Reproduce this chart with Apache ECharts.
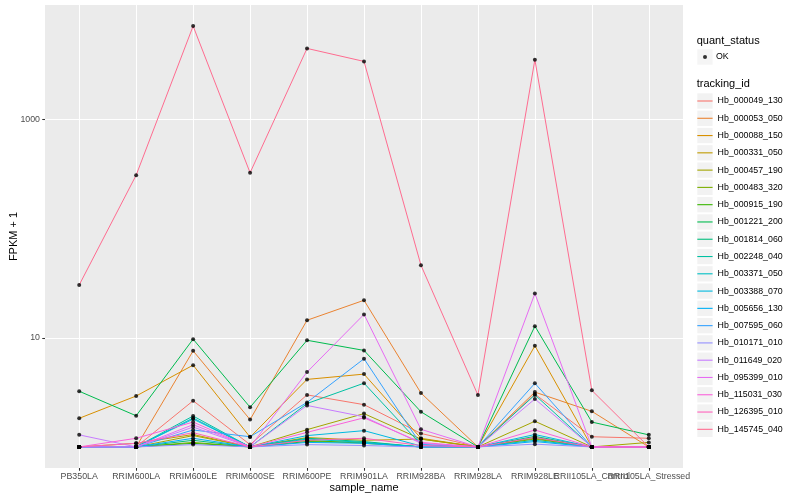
<!DOCTYPE html>
<html><head><meta charset="utf-8">
<script src="https://cdn.jsdelivr.net/npm/echarts@6/dist/echarts.min.js"></script>
<style>html,body{margin:0;padding:0;background:#fff}#c{width:800px;height:500px}</style>
</head><body><div id="c"></div>
<script>
const categories = ['PB350LA','RRIM600LA','RRIM600LE','RRIM600SE','RRIM600PE','RRIM901LA','RRIM928BA','RRIM928LA','RRIM928LE','RRII105LA_Control','RRII105LA_Stressed'];
const trackingIds = ['Hb_000049_130','Hb_000053_050','Hb_000088_150','Hb_000331_050','Hb_000457_190','Hb_000483_320','Hb_000915_190','Hb_001221_200','Hb_001814_060','Hb_002248_040','Hb_003371_050','Hb_003388_070','Hb_005656_130','Hb_007595_060','Hb_010171_010','Hb_011649_020','Hb_095399_010','Hb_115031_030','Hb_126395_010','Hb_145745_040'];
const palette = ['#F8766D','#EA8331','#D89000','#C09B00','#A3A500','#7CAE00','#39B600','#00BB4E','#00BF7D','#00C1A3','#00BFC4','#00BAE0','#00B0F6','#35A2FF','#9590FF','#C77CFF','#E76BF3','#FA62DB','#FF62BC','#FF6C90'];

// FPKM + 1 per sample, in category order
const hb_000049_130 = [1, 1, 2.65, 1.05, 3.0, 2.44, 1.33, 1, 3.05, 1.24, 1.2];
const hb_000053_050 = [1, 1, 7.6, 1.78, 14.5, 22.1, 3.12, 1, 3.18, 2.12, 1];
const hb_000088_150 = [1.83, 2.93, 5.62, 1.23, 4.16, 4.65, 1.2, 1, 8.45, 1, 1];
const hb_000331_050 = [1, 1.08, 1.3, 1, 1.22, 1.15, 1.18, 1, 1.2, 1, 1];
const hb_000457_190 = [1, 1, 1.27, 1, 1.44, 2.02, 1.18, 1, 1.72, 1, 1.1];
const hb_000483_320 = [1, 1, 1.1, 1, 1.15, 1.08, 1, 1, 1.18, 1, 1];
const hb_000915_190 = [1, 1, 1.08, 1, 1.12, 1.1, 1, 1, 1.22, 1, 1];
const hb_001221_200 = [3.24, 1.93, 9.73, 2.31, 9.5, 7.67, 2.1, 1, 12.8, 1.69, 1.29];
const hb_001814_060 = [1, 1, 1.15, 1, 1.2, 1.12, 1, 1, 1.25, 1, 1];
const hb_002248_040 = [1, 1, 1.92, 1, 2.5, 3.84, 1.05, 1, 3.0, 1, 1];
const hb_003371_050 = [1, 1, 1.84, 1, 1.18, 1.1, 1, 1, 1.15, 1, 1];
const hb_003388_070 = [1, 1, 1.8, 1, 1.27, 1.41, 1.02, 1, 1.3, 1, 1];
const hb_005656_130 = [1, 1, 1.2, 1, 1.1, 1.08, 1, 1, 1.12, 1, 1];
const hb_007595_060 = [1, 1, 1.43, 1.24, 2.56, 6.43, 1.05, 1, 3.83, 1, 1];
const hb_010171_010 = [1, 1, 1.05, 1, 1.05, 1.03, 1, 1, 1.06, 1, 1];
const hb_011649_020 = [1.29, 1, 1.52, 1, 2.4, 1.89, 1.08, 1, 2.75, 1, 1];
const hb_095399_010 = [1, 1, 1.6, 1, 4.85, 16.4, 1.45, 1, 25.5, 1, 1];
const hb_115031_030 = [1, 1.2, 1.69, 1, 1.36, 1.85, 1.1, 1, 1.43, 1, 1];
const hb_126395_010 = [1, 1.08, 1.35, 1, 1.15, 1.2, 1.03, 1, 1.22, 1, 1];
const hb_145745_040 = [30.5, 310, 7210, 326, 4500, 3420, 46.3, 2.99, 3550, 3.3, 1];

const seriesValues = [hb_000049_130, hb_000053_050, hb_000088_150, hb_000331_050, hb_000457_190, hb_000483_320, hb_000915_190, hb_001221_200, hb_001814_060, hb_002248_040, hb_003371_050, hb_003388_070, hb_005656_130, hb_007595_060, hb_010171_010, hb_011649_020, hb_095399_010, hb_115031_030, hb_126395_010, hb_145745_040];

const yLabelTicks = [10, 1000];
const yMin = 0.641, yMax = 11250;
const FONT = 'Liberation Sans, Arial, sans-serif';

const chart = echarts.init(document.getElementById('c'), null, {renderer: 'canvas'});

const series = [];
// dummy series on background grid: major gridlines
series.push({
  type: 'line', xAxisIndex: 0, yAxisIndex: 0, data: [], silent: true,
  markLine: {
    silent: true, z: 1, symbol: ['none', 'none'], label: {show: false},
    lineStyle: {color: '#ffffff', width: 1.1, type: 'solid'},
    emphasis: {disabled: true},
    data: yLabelTicks.map(v => ({yAxis: v}))
  }
});
trackingIds.forEach((id, i) => {
  series.push({
    type: 'line', name: id, xAxisIndex: 1, yAxisIndex: 1,
    data: seriesValues[i], showSymbol: false, symbol: 'none',
    lineStyle: {color: palette[i], width: 1}, itemStyle: {color: palette[i]},
    silent: true, z: 2, clip: false
  });
});
trackingIds.forEach((id, i) => {
  series.push({
    type: 'scatter', name: 'OK', xAxisIndex: 1, yAxisIndex: 1,
    data: seriesValues[i], symbol: 'circle', symbolSize: 4,
    itemStyle: {color: '#000000'}, silent: true, z: 3, clip: false
  });
});

const option = {
  animation: false,
  backgroundColor: '#ffffff',
  textStyle: {fontFamily: FONT},
  title: [
    {text: 'quant_status', left: 696.7, top: 34.2, padding: 0,
     textStyle: {fontSize: 11, fontWeight: 'normal', color: '#000', lineHeight: 13, fontFamily: FONT}},
    {text: 'tracking_id', left: 696.7, top: 77.8, padding: 0,
     textStyle: {fontSize: 11, fontWeight: 'normal', color: '#000', lineHeight: 13, fontFamily: FONT}}
  ],
  grid: [
    {left: 45, top: 5, width: 638, height: 463, show: true, backgroundColor: '#EBEBEB', borderWidth: 0, containLabel: false, outerBoundsMode: 'none'},
    {left: 79.2, top: 5, width: 569.6, height: 463, containLabel: false, outerBoundsMode: 'none'}
  ],
  xAxis: [
    {gridIndex: 0, type: 'category', data: categories, show: false},
    {gridIndex: 1, type: 'category', data: categories, boundaryGap: false,
     axisLine: {show: false},
     axisTick: {show: true, interval: 0, length: 2.75, lineStyle: {color: '#333333', width: 1.07}},
     axisLabel: {interval: 0, fontSize: 8.8, color: '#4D4D4D', margin: 4.5, fontFamily: FONT},
     splitLine: {show: true, interval: 0, lineStyle: {color: '#ffffff', width: 1.07}},
     name: 'sample_name', nameLocation: 'middle', nameGap: 14, nameMoveOverlap: false,
     nameTextStyle: {fontSize: 11, color: '#000', fontFamily: FONT}}
  ],
  yAxis: [
    {gridIndex: 0, type: 'log', logBase: 10, min: yMin, max: yMax,
     axisLine: {show: false},
     axisTick: {show: true, customValues: yLabelTicks, length: 2.75, lineStyle: {color: '#333333', width: 1.07}},
     axisLabel: {fontSize: 8.8, color: '#4D4D4D', margin: 5, fontFamily: FONT, customValues: yLabelTicks,
       formatter: v => {
         for (const t of yLabelTicks) { if (Math.abs(Math.log10(v) - Math.log10(t)) < 1e-6) return String(t); }
         return '';
       }},
     splitLine: {show: true, lineStyle: {color: '#ffffff', width: 0.53}},
     name: 'FPKM + 1', nameLocation: 'middle', nameRotate: 90, nameGap: 26, nameMoveOverlap: false,
     nameTextStyle: {fontSize: 11, color: '#000', fontFamily: FONT}},
    {gridIndex: 1, type: 'log', logBase: 10, min: yMin, max: yMax, show: false}
  ],
  legend: [
    {data: [{name: 'OK', icon: 'rect', itemStyle: {color: '#F2F2F2', borderWidth: 0}}],
     orient: 'vertical', left: 697.3, top: 49.35, itemWidth: 15.3, itemHeight: 15.3,
     formatter: () => '', selectedMode: false, padding: 0, z: 3},
    {data: [{name: 'OK', icon: 'circle', itemStyle: {color: '#000000', borderWidth: 0}}],
     orient: 'vertical', left: 703, top: 51.5, itemWidth: 4, itemHeight: 4,
     textStyle: {fontSize: 8.8, lineHeight: 11, color: '#000', padding: [0, 0, 0, 4], fontFamily: FONT},
     selectedMode: false, padding: 0, z: 4},
    {data: trackingIds.map(n => ({name: n, icon: 'rect', itemStyle: {color: '#F2F2F2', borderWidth: 0}})),
     orient: 'vertical', left: 697.3, top: 93.35, itemWidth: 15.3, itemHeight: 15.3, itemGap: 1.98,
     formatter: () => '', selectedMode: false, padding: 0, z: 3},
    {data: trackingIds.map((n, i) => ({name: n, icon: 'rect', itemStyle: {color: palette[i], borderWidth: 0}})),
     orient: 'vertical', left: 697.3, top: 95.5, itemWidth: 15.3, itemHeight: 1.1, itemGap: 6.28,
     textStyle: {fontSize: 8.8, lineHeight: 11, color: '#000', fontFamily: FONT},
     selectedMode: false, padding: 0, z: 4}
  ],
  series: series
};
chart.setOption(option);
</script>
</body></html>
